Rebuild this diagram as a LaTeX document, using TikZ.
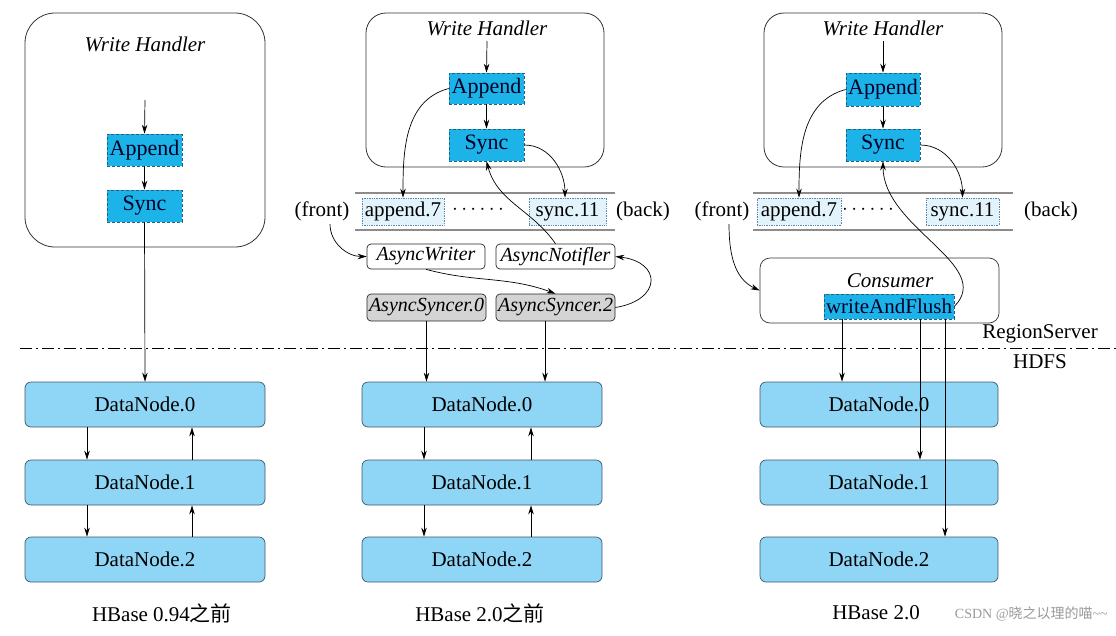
\documentclass[tikz,border=0pt]{standalone}
\usepackage{fontspec}
\setmainfont{Liberation Serif}
\newfontfamily\cjkfont{Noto Sans CJK SC}
\usetikzlibrary{arrows.meta}
\definecolor{opfill}{HTML}{1BB3E8}
\definecolor{opborder}{HTML}{1F5F80}
\definecolor{qfill}{HTML}{E2F3FC}
\definecolor{qborder}{HTML}{5A86A8}
\definecolor{dnfill}{HTML}{8FD5F5}
\definecolor{dnborder}{HTML}{3E5868}
\definecolor{grayfill}{HTML}{D4D4D4}
\newcommand\myfs{\fontsize{21}{25}\selectfont}
\newcommand\mysmallfs{\fontsize{20}{24}\selectfont}
\newcommand\mybigfs{\fontsize{22}{26}\selectfont}
\begin{document}
\begin{tikzpicture}[x=1pt,y=-1pt,
  font=\myfs,
  every node/.style={inner sep=0pt},
  arr/.style={-{Stealth[length=9pt,width=5.5pt]}, line width=0.7pt},
  container/.style={draw=black!80, line width=0.8pt, rounded corners=20pt},
  opbox/.style={draw=opborder, fill=opfill, densely dashed, line width=0.6pt, minimum width=75pt, minimum height=32pt, text=black!85!blue, font=\mybigfs},
  qitem/.style={draw=qborder, fill=qfill, densely dotted, line width=0.7pt, minimum height=27pt},
  thread/.style={draw=black!85, fill=white, rounded corners=4pt, line width=0.7pt, minimum width=118pt, minimum height=25pt, font=\mysmallfs\itshape},
  syncer/.style={draw=black!85, fill=grayfill, rounded corners=4pt, line width=0.7pt, minimum width=119pt, minimum height=27pt, font=\mysmallfs\itshape},
  dn/.style={draw=dnborder, fill=dnfill, rounded corners=6pt, line width=0.7pt, minimum width=240pt, minimum height=45pt},
  qline/.style={draw=black!45, line width=1.4pt},
  ttl/.style={font=\myfs\itshape}
]
\useasboundingbox (0,0) rectangle (1116,635);

% ---------- Panel 1 ----------
\node[container, rounded corners=30pt, minimum width=240pt, minimum height=234pt] (wh1) at (145,130) {};
\node[ttl] (t1) at (145,44) {Write Handler};
\coordinate (in1) at (145,100);
\node[opbox] (app1) at (144.5,150) {Append};
\node[opbox] (sync1) at (144.5,206) {Sync};
\node[dn] (dn01) at (145,404.5) {DataNode.0};
\node[dn] (dn11) at (145,482.5) {DataNode.1};
\node[dn] (dn21) at (145,559.5) {DataNode.2};
\draw[arr] (in1) -- (app1.north);
\draw[arr] (app1.south) -- (sync1.north);
\draw[arr] (sync1.south) -- (dn01.north);
\draw[arr] (87,0 |- dn01.south) -- (87,0 |- dn11.north);
\draw[arr] (192,0 |- dn11.north) -- (192,0 |- dn01.south);
\draw[arr] (87,0 |- dn11.south) -- (87,0 |- dn21.north);
\draw[arr] (192,0 |- dn21.north) -- (192,0 |- dn11.south);
\node (lab1) at (162,613) {HBase 0.94{\cjkfont 之前}};

% ---------- Panel 2 ----------
\node[container, minimum width=238pt, minimum height=154pt] (wh2) at (485,90) {};
\node[ttl] (t2) at (487,28) {Write Handler};
\coordinate (in2) at (487,41);
\node[opbox, minimum height=31pt] (app2) at (486.5,88.5) {Append};
\node[opbox] (sync2) at (486.5,145) {Sync};
\draw[qline] (355,193) -- (615,193);
\draw[qline] (355,230) -- (615,230);
\node (front2) at (322,211) {(front)};
\node[qitem, minimum width=82pt] (a72) at (403,211.5) {append.7};
\node (dots2) at (478,211) {\raisebox{0.3ex}{$\cdots\cdots$}};
\node[qitem, minimum width=77pt] (s112) at (567.5,211.5) {sync.11};
\node (back2) at (643,211) {(back)};
\node[thread] (aw) at (426,256.5) {AsyncWriter};
\node[thread, minimum width=119pt] (an) at (555.5,256.5) {AsyncNotifler};
\node[syncer] (as0) at (426.5,307.5) {AsyncSyncer.0};
\node[syncer] (as2) at (555.5,307.5) {AsyncSyncer.2};
\node[dn] (dn02) at (482,404.5) {DataNode.0};
\node[dn] (dn12) at (482,482.5) {DataNode.1};
\node[dn] (dn22) at (482,559.5) {DataNode.2};
\draw[arr] (in2) -- (app2.north);
\draw[arr] (app2.south) -- (sync2.north);
\draw[arr] (app2.west) to[out=195,in=90] (a72.north);
\draw[arr] (sync2.east) to[out=0,in=90] (565,0 |- s112.north);
\draw[arr] (an.north) to[out=125,in=-75] (sync2.south);
\draw[arr] (330,224) to[out=-90,in=180] (aw.west);
\draw[arr] (aw.south) to[out=-15,in=160] (as2.north);
\draw[arr] (as2.east) .. controls (662,300) and (662,262) .. (an.east);
\draw[arr] (as0.south) -- (426.5,0 |- dn02.north);
\draw[arr] (545,0 |- as2.south) -- (545,0 |- dn02.north);
\draw[arr] (424,0 |- dn02.south) -- (424,0 |- dn12.north);
\draw[arr] (531,0 |- dn12.north) -- (531,0 |- dn02.south);
\draw[arr] (424,0 |- dn12.south) -- (424,0 |- dn22.north);
\draw[arr] (531,0 |- dn22.north) -- (531,0 |- dn12.south);
\node (lab2) at (480,613) {HBase 2.0{\cjkfont 之前}};

% ---------- Panel 3 ----------
\node[container, minimum width=238pt, minimum height=154pt] (wh3) at (883,90) {};
\node[ttl] (t3) at (883,28) {Write Handler};
\coordinate (in3) at (883,41);
\node[opbox, minimum width=74pt, minimum height=33pt] (app3) at (883,89.5) {Append};
\node[opbox, minimum width=74pt] (sync3) at (883,145) {Sync};
\draw[qline] (753,193) -- (1013,193);
\draw[qline] (753,230) -- (1013,230);
\node (front3) at (722,211) {(front)};
\node[qitem, minimum width=84pt] (a73) at (799,211.5) {append.7};
\node (dots3) at (868,211) {\raisebox{0.3ex}{$\cdots\cdots$}};
\node[qitem, minimum width=73pt] (s113) at (962.5,211.5) {sync.11};
\node (back3) at (1051,211) {(back)};
\node[draw=black!80, rounded corners=10pt, line width=0.7pt, minimum width=239pt, minimum height=65pt] (cons) at (879.5,290.5) {};
\node[ttl] (ct) at (890,281) {Consumer};
\node[draw=opborder, fill=opfill, densely dashed, line width=0.6pt, minimum width=130pt, minimum height=25pt, text=black!85!blue] (wf) at (889,306.5) {writeAndFlush};
\node[dn, minimum width=238pt] (dn03) at (879,404.5) {DataNode.0};
\node[dn, minimum width=238pt] (dn13) at (879,482.5) {DataNode.1};
\node[dn, minimum width=238pt] (dn23) at (879,559.5) {DataNode.2};
\draw[arr] (in3) -- (app3.north);
\draw[arr] (app3.south) -- (sync3.north);
\draw[arr] (app3.west) to[out=195,in=90] (a73.north);
\draw[arr] (sync3.east) to[out=0,in=90] (s113.north);
\draw[arr] (729,224) to[out=-90,in=155] (cons.west);
\draw[arr] (wf.east) .. controls (995,265) and (883,228) .. (sync3.south);
\draw[arr] (842,0 |- wf.south) -- (842,0 |- dn03.north);
\draw[arr] (920,0 |- wf.south) -- (920,0 |- dn13.north);
\draw[arr] (945,0 |- wf.south) -- (945,0 |- dn23.north);
\node (lab3) at (876,613) {HBase 2.0};
\node[text=black!40, font=\fontsize{14}{16}\selectfont, anchor=east] (wm) at (1108,614) {CSDN @{\cjkfont 晓之以理的喵}\textasciitilde\textasciitilde};

% ---------- Divider ----------
\draw[line width=0.8pt, dash pattern=on 12pt off 4pt on 2pt off 4pt] (20,348) -- (1116,348);
\node (rs) at (1040,334) {RegionServer};
\node (hdfs) at (1040,362) {HDFS};
\end{tikzpicture}
\end{document}
